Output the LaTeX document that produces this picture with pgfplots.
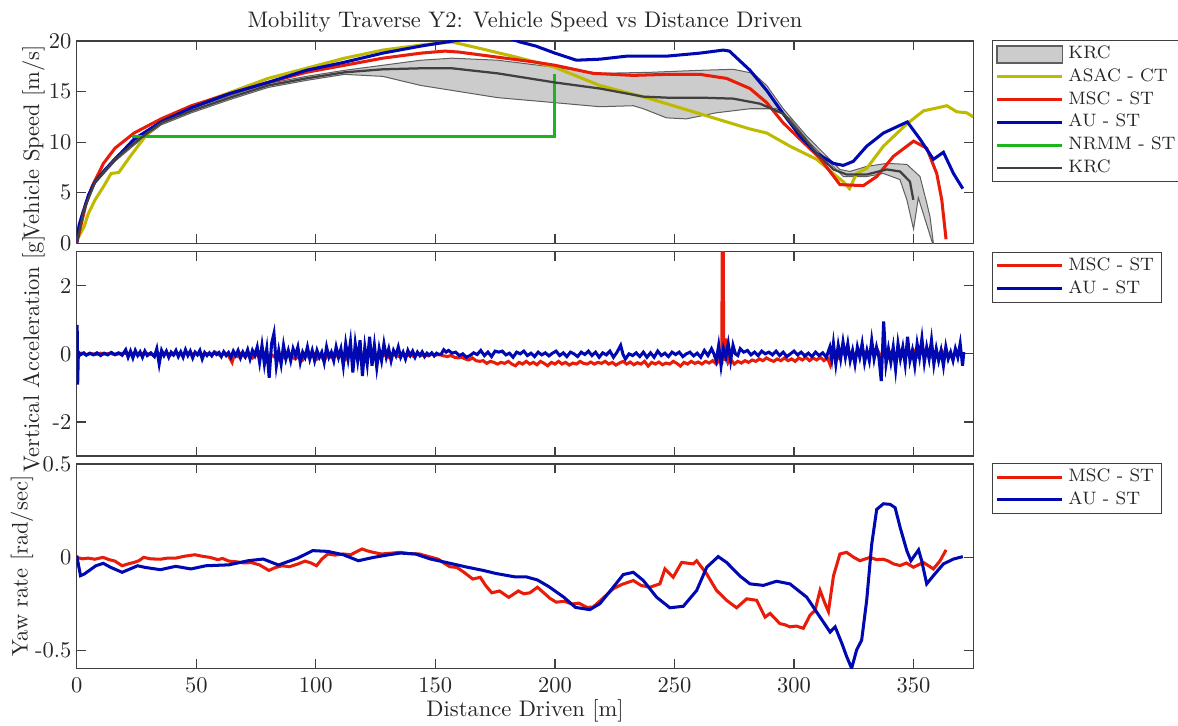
\documentclass[border=0pt]{standalone}
\usepackage{pgfplots}
\pgfplotsset{compat=1.18}
\definecolor{asac}{RGB}{190,186,0}
\definecolor{msc}{RGB}{232,28,8}
\definecolor{au}{RGB}{0,8,178}
\definecolor{nrmm}{RGB}{30,180,30}
\definecolor{krc}{RGB}{64,64,64}
\definecolor{krcfill}{RGB}{204,204,204}
\definecolor{krcedge}{RGB}{95,95,95}
\definecolor{axcol}{RGB}{64,64,64}
\definecolor{txtcol}{RGB}{38,38,38}
\begin{document}
\begin{tikzpicture}
\path[use as bounding box] (0,0) rectangle (523.56pt,-322.67pt);
\pgfplotsset{
  every axis/.append style={
    scale only axis, width=398.49pt, xmin=0, xmax=375,
    xtick={0,50,...,350},
    axis line style={axcol, line width=0.55pt},
    every tick/.style={axcol, line width=0.55pt},
    major tick length=4pt,
    tick label style={font=\fontsize{10}{12}\selectfont, text=txtcol},
    label style={font=\fontsize{10}{12}\selectfont, text=txtcol},
    yticklabel style={anchor=east, inner xsep=0pt, xshift=-2.2pt},
    legend cell align=left,
    legend image code/.code={\draw[#1] (0pt,0pt) -- (29pt,0pt);},
    legend style={draw=axcol, line width=0.55pt, fill=white, text=txtcol,
      font=\fontsize{8}{9}\selectfont,
      inner xsep=1.5pt, inner ysep=1pt, row sep=0pt,
      nodes={inner xsep=2pt, inner ysep=0.5pt, text height=6.5pt, text depth=2.6pt}},
  },
  every axis title/.style={at={(0.5,1)}, anchor=base, yshift=6.1pt,
    font=\fontsize{10}{12}\selectfont, text=txtcol},
}
% ---------------- Speed ----------------
\begin{axis}[at={(34.09pt,-18.22pt)}, anchor=north west, height=89.91pt,
  ymin=0, ymax=20, ytick={0,5,10,15,20}, yticklabels={0,5,10,15,20},
  xticklabels={},
  ylabel={Vehicle Speed [m/s]},
  ylabel style={at={([xshift=-19.2pt]axis description cs:0,0.5)}, anchor=center},
  title={Mobility Traverse Y2: Vehicle Speed vs Distance Driven},
  legend style={at={(1.0205,1.005)}, anchor=north west},
]
\addplot[fill=krcfill, draw=krcedge, line width=0.45pt,
  legend image code/.code={\draw[fill=krcfill, draw=krcedge, line width=0.8pt] (0pt,-3.8pt) rectangle (29pt,3.8pt);}]
coordinates {
(0,0.1) (3,3.5) (7.7,6.3) (16,8.5) (24,10.1) (35.3,12.1) (48,13.3) (64,14.6) (80,15.8) (96,16.5) (112,17.1) (128,17.6) (144,18.1) (157,18.3) (176,18.1) (200,17.4) (218.8,16.8) (239.7,16.9) (260.7,17.1) (274.6,17.2) (283,16.8) (288.6,15.6) (295.5,13.3) (305.3,10.6) (313.7,8.6) (319.2,7.3) (323.4,7.1) (330.4,7.6) (338.8,7.9) (347.2,7.8) (352.7,6.6) (355.5,4) (356.9,2.6) (358.3,0) (358.6,-0.5)
(352,4.5) (350,1.4) (347.2,4.3) (344.3,6.3) (337.4,6.9) (330.4,6.6) (320.6,6.6) (315.1,7.9) (306.7,9.9) (298.3,12.3) (292.7,13.3) (281.6,13.3) (267.5,12.9) (255,12.3) (246.7,12.4) (237,13.3) (232.8,13.6) (218.8,13.5) (200,13.9) (176,14.4) (160,15.0) (144,15.6) (128,16.5) (112,16.7) (96,16.1) (80,15.4) (64,14.2) (48,12.9) (35.3,11.7) (24,9.7) (16,8.1) (7.7,5.9) (3,3.2) (0,0)
} -- cycle;
\addlegendentry{KRC}
\addplot[asac, line width=1.35pt] coordinates {
(0.5,0.5) (3.2,1.7) (4.8,2.9) (7.7,4.3) (11.2,5.6) (14.4,6.9) (17.6,7) (22.4,8.6) (28.8,10.6) (35.3,12.1) (43.3,13.1) (64,14.9) (80,16.3) (96,17.3) (112,18.3) (128,19.1) (144,19.6) (157,19.9) (168,19.3) (184,18.4) (200,17.4) (218.8,15.6) (239.7,14.3) (260.7,12.8) (281.6,11.3) (288.6,10.9) (298.3,9.6) (309.5,8.3) (317.9,6.6) (320.6,6.1) (323.2,5.4) (326.2,6.9) (330.4,7.4) (337.4,9.6) (347.2,11.8) (354.2,13.1) (358.3,13.3) (363.9,13.6) (368.1,13.0) (372.2,12.9) (375,12.5)
};
\addlegendentry{ASAC - CT}
\addplot[msc, line width=1.35pt] coordinates {
(0,0) (1.6,1.6) (4,4) (6.4,5.6) (11.2,7.9) (16,9.4) (24,10.9) (35.3,12.3) (48,13.6) (64,14.8) (80,15.9) (96,16.9) (112,17.6) (128,18.3) (144,18.8) (154,19.0) (160,18.9) (176,18.4) (192,17.9) (200,17.6) (216,16.8) (232.8,16.6) (246.7,16.7) (260.7,16.7) (271.8,16.3) (281.6,15.3) (288.6,13.9) (295.5,11.9) (302.5,10.3) (310.9,8.4) (319.2,5.8) (329,5.7) (334.6,6.6) (341.6,8.6) (350,10.1) (355.5,9.4) (359.7,6.9) (361.8,4.3) (363.6,0.4)
};
\addlegendentry{MSC - ST}
\addplot[au, line width=1.35pt] coordinates {
(0,0) (1,1.8) (2.4,2.9) (5,4.8) (7.7,6.1) (12,7.3) (16,8.3) (24,10.3) (35.3,12) (48,13.4) (64,14.8) (80,15.9) (96,17.1) (112,17.9) (128,18.8) (144,19.5) (160,20.1) (172,20.4) (180,20.35) (185.4,19.9) (192,19.5) (200,18.8) (209,18.1) (218.8,18.2) (230,18.5) (246.7,18.5) (260.7,18.8) (270.4,19.1) (273,19.0) (281.6,17.1) (288.6,15.1) (295.5,12.8) (302.5,10.6) (309.5,8.9) (316.5,7.9) (320.6,7.7) (324.8,8.1) (330.4,9.6) (337.4,10.9) (347.4,12.0) (352.7,10.3) (358.3,8.3) (362.5,9.0) (366.7,6.9) (370.6,5.4)
};
\addlegendentry{AU - ST}
\addplot[nrmm, line width=1.35pt] coordinates {(23.2,10.6) (200,10.6) (200,16.7)};
\addlegendentry{NRMM - ST}
\addplot[krc, line width=1pt] coordinates {
(0,0) (3,3.3) (7.7,6.1) (16,8.3) (24,9.9) (35.3,11.9) (48,13.1) (64,14.4) (80,15.6) (96,16.3) (112,16.9) (128,17.2) (144,17.3) (157,17.3) (176,16.8) (200,15.9) (218.8,15.3) (237,14.5) (246.7,14.4) (260.7,14.4) (274.6,14.3) (285.8,13.8) (295.5,12.8) (302.5,10.9) (309.5,8.9) (316.5,7.3) (322,6.8) (330.4,6.8) (338.8,7.3) (344.3,7.1) (348.5,6.1) (349.9,4.3)
};
\addlegendentry{KRC}
\end{axis}
% ---------------- Vertical acceleration ----------------
\begin{axis}[at={(34.09pt,-111.87pt)}, anchor=north west, height=90.8pt,
  ymin=-3, ymax=3, ytick={-2,0,2}, yticklabels={-2,0,2},
  xticklabels={},
  ylabel={Vertical Acceleration [g]},
  ylabel style={at={([xshift=-19.2pt]axis description cs:0,0.5)}, anchor=center},
  legend style={at={(1.0205,1)}, anchor=north west},
]
\addplot[msc, line width=1.35pt] coordinates {
(0,0) (2,0.02) (4,-0.02) (6,0.01) (8,-0.02) (10,0.02) (12,-0.01) (14,0.02) (16,-0.03) (18,0.01) (20,0.02) (22,-0.02) (24,0.03) (26,-0.03) (28,0.02) (30,0.0) (32,-0.03) (34,0.02) (36,-0.02) (38,0.01) (40,-0.03) (42,0.02) (44,-0.02) (46,0.03) (48,-0.01) (50,0.02) (52,-0.03) (54,0.01) (56,-0.02) (58,0.05) (60,-0.05) (62,0.02) (63.5,-0.05) (65,-0.25) (66,0.0) (67.5,-0.08) (69,0.03) (70.5,-0.1) (72,0.0) (73.5,-0.12) (75,-0.02) (76.5,-0.1) (78,0.05) (79.5,-0.12) (81,0.0) (82.5,-0.08) (84,-0.15) (85.5,-0.02) (87,-0.12) (88.5,0.02) (90,-0.1) (91.5,-0.15) (93,-0.05) (94.5,-0.18) (96,-0.05) (97.5,-0.12) (99,0.02) (100.5,-0.15) (102,-0.05) (103.5,-0.2) (105,-0.02) (106.5,-0.1) (108,0.05) (109.5,-0.12) (111,0.0) (112.5,-0.15) (114,0.05) (115.5,-0.1) (117,-0.05) (118.5,-0.15) (120,0.0) (121.5,-0.1) (123,-0.02) (124.5,-0.12) (126,0.0) (127.5,-0.08) (129,-0.03) (130.5,-0.1) (132,0.0) (133.5,-0.05) (135,-0.08) (136.5,0.0) (138,-0.06) (139.5,-0.02) (141,-0.08) (142.5,0.0) (144,-0.05) (145.5,-0.02) (147,-0.06) (148.5,0.0) (150,-0.04) (151.5,-0.02) (153,-0.05) (155,-0.08) (156.5,-0.05) (158,-0.1) (159.5,-0.12) (161,-0.1) (162.5,-0.15) (164,-0.18) (165.5,-0.12) (167,-0.2) (168.5,-0.22) (170,-0.2) (171.5,-0.28) (173,-0.22) (174.5,-0.25) (176,-0.3) (177.5,-0.25) (179,-0.28) (180.5,-0.22) (182,-0.3) (183.5,-0.35) (185,-0.25) (186.5,-0.3) (188,-0.22) (189.5,-0.3) (191,-0.25) (192.5,-0.32) (194,-0.22) (195.5,-0.28) (197,-0.35) (198.5,-0.25) (200,-0.3) (201.5,-0.22) (203,-0.3) (204.5,-0.25) (206,-0.33) (207.5,-0.27) (209,-0.3) (210.5,-0.22) (212,-0.28) (213.5,-0.3) (215,-0.24) (216.5,-0.3) (218,-0.25) (219.5,-0.28) (221,-0.22) (222.5,-0.3) (224,-0.25) (225.5,-0.33) (227,-0.27) (228.5,-0.22) (230,-0.3) (231.5,-0.24) (233,-0.32) (234.5,-0.26) (236,-0.3) (237.5,-0.22) (239,-0.36) (240.5,-0.25) (242,-0.3) (243.5,-0.24) (245,-0.32) (246.5,-0.27) (248,-0.3) (249.5,-0.22) (251,-0.28) (252.5,-0.36) (254,-0.25) (255.5,-0.3) (257,-0.22) (258.5,-0.28) (260,-0.24) (261.5,-0.3) (263,-0.22) (264.5,-0.27) (266,-0.2) (267.5,-0.3) (269,-0.15) (269.8,-0.2) (270,3.5) (270.4,3.5) (270.6,-0.2) (271.5,0.45) (272.5,-0.25) (273.5,-0.15) (275,-0.3) (276.5,-0.22) (278,-0.27) (279.5,-0.2) (281,-0.25) (282.5,-0.18) (284,-0.22) (285.5,-0.15) (287,-0.2) (288.5,-0.12) (290,-0.18) (291.5,-0.22) (293,-0.15) (294.5,-0.2) (296,-0.12) (297.5,-0.2) (299,-0.15) (300.5,-0.22) (302,-0.12) (303.5,-0.18) (305,-0.1) (306.5,-0.2) (308,-0.12) (309.5,-0.18) (311,-0.1) (312.5,-0.2) (314,-0.12) (315,-0.3) (315.5,-0.05) (317,0.05) (318.5,-0.1) (320,0.08) (321.5,-0.05) (323,0.05) (324.5,-0.1) (326,0.03) (327.5,-0.05) (329,0.08) (330.5,-0.08) (332,0.05) (333.5,-0.05) (335,0.1) (336.5,-0.1) (338,0.05) (339.5,-0.08) (341,0.08) (342.5,-0.05) (344,0.1) (345.5,-0.05) (347,0.05) (348.5,-0.1) (350,0.1) (351.5,-0.08) (353,0.05) (354.5,-0.05) (356,0.1) (357.5,-0.08) (359,0.05) (360.5,-0.05) (362,0.08) (363,-0.05)
};
\addlegendentry{MSC - ST}
\addplot[au, line width=1.35pt] coordinates {
(0,0) (0.2,0.85) (0.4,-0.9) (0.7,0.05) (1.5,-0.03) (3,0.03) (4,-0.04) (5.5,0.02) (7,-0.03) (8.5,0.03) (10,-0.05) (11.5,0.02) (13,-0.03) (14.5,0.04) (16,-0.02) (17.5,0.03) (19,-0.04) (20.5,0.12) (21.5,-0.1) (22.5,0.08) (23.5,-0.12) (24.5,0.1) (25.5,-0.05) (26.5,0.06) (27.5,-0.1) (28.5,0.08) (29.5,-0.05) (31,0.03) (32.5,-0.08) (33.5,0.15) (34.5,-0.3) (35.5,0.1) (36.5,-0.05) (37.5,0.08) (38.5,-0.1) (39.5,0.05) (40.5,-0.03) (41.5,0.1) (42.5,-0.08) (43.5,0.06) (44.5,-0.1) (45.5,0.12) (46.5,-0.05) (47.5,0.08) (48.5,-0.12) (49.5,0.05) (50.5,-0.03) (51.5,0.1) (52.5,-0.15) (53.5,0.04) (54.5,-0.05) (55.5,0.03) (56.5,-0.06) (57.5,0.05) (58.5,-0.02) (59.5,0.04) (60.5,-0.08) (61.5,0.06) (62.5,-0.05) (63.5,0.04) (64.5,-0.1) (65.5,0.08) (66.5,-0.05) (67.5,0.1) (68.5,-0.12) (69.5,0.05) (70.5,-0.08) (71.5,0.12) (72.5,-0.15) (73.5,0.1) (74.5,-0.05) (75.5,0.2) (76.5,-0.25) (77.5,0.25) (78.5,-0.3) (79.5,0.15) (80.5,-0.7) (81.5,0.3) (82.5,0.6) (83.5,-0.35) (84.5,0.1) (85.5,-0.3) (86.5,0.25) (87.5,-0.15) (88.5,0.1) (89.5,-0.2) (90.5,0.15) (91.5,-0.05) (92.5,0.2) (93.5,-0.25) (94.5,0.05) (95.5,-0.1) (96.5,0.2) (97.5,-0.15) (98.5,0.1) (99.5,-0.2) (100.5,0.1) (101.5,-0.1) (102.5,0.05) (103.5,-0.25) (104.5,0.2) (105.5,-0.1) (106.5,0.05) (107.5,-0.2) (108.5,0.2) (109.5,-0.1) (110.5,0.15) (111.5,-0.35) (112.5,0.3) (113.5,-0.15) (114.5,0.35) (115.5,-0.55) (116.5,0.3) (117.5,-0.2) (118.5,0.4) (119.5,-0.65) (120.5,0.2) (121.5,-0.3) (122.5,0.5) (123.5,-0.35) (124.5,0.25) (125.5,-0.4) (126.5,0.15) (127.5,-0.2) (128.5,0.3) (129.5,-0.1) (130.5,0.15) (131.5,-0.2) (132.5,0.1) (133.5,-0.05) (134.5,0.2) (135.5,-0.1) (136.5,0.05) (137.5,-0.15) (138.5,0.1) (139.5,-0.05) (140.5,0.08) (141.5,-0.1) (142.5,0.05) (143.5,-0.05) (144.5,0.06) (145.5,-0.08) (146.5,0.02) (147.5,-0.04) (148.5,0.03) (149.5,-0.06) (150.5,0.02) (151.5,-0.02) (152.5,0.0) (153.5,0.12) (154.5,0.05) (155.5,0.1) (157,0.02) (158.5,0.05) (160,-0.05) (161.5,0.0) (163,-0.1) (164.5,-0.05) (166,0.03) (167.5,-0.02) (169,0.1) (170.5,-0.05) (172,0.05) (173.5,-0.08) (175,0.08) (176.5,0.05) (178,0.08) (179.5,-0.03) (181,0.02) (182.5,-0.1) (184,0.05) (185.5,0.0) (187,0.08) (188.5,-0.05) (190,0.02) (191.5,-0.08) (193,0.05) (194.5,-0.03) (196,0.03) (197.5,-0.06) (199,0.02) (200.5,0.08) (202,-0.05) (203.5,0.03) (205,-0.08) (206.5,0.05) (208,0.0) (209.5,-0.08) (211,0.05) (212.5,-0.02) (214,0.08) (215.5,-0.05) (217,0.05) (218.5,-0.1) (220,0.03) (221.5,-0.03) (223,0.08) (224.5,-0.1) (226,0.05) (227.5,0.25) (228.5,-0.02) (229.5,-0.15) (231,0.0) (232.5,-0.05) (234,0.03) (235.5,-0.08) (237,0.05) (238.5,-0.1) (240,0.03) (241.5,-0.1) (243,0.08) (244.5,-0.05) (246,0.02) (247.5,-0.08) (249,0.05) (250.5,-0.02) (252,0.05) (253.5,-0.08) (255,0.0) (256.5,0.05) (258,-0.06) (259.5,0.02) (261,-0.1) (262.5,0.1) (264,-0.05) (265.5,0.15) (266.5,0.0) (267.5,-0.2) (268.5,0.25) (269.5,-0.35) (270.5,0.15) (271.5,-0.1) (272.5,0.3) (273.5,-0.2) (274.5,0.25) (275.5,0.0) (276.5,-0.05) (277.5,0.15) (279,0.05) (280.5,0.1) (282,-0.03) (283.5,0.05) (285,-0.05) (286.5,0.08) (288,0.0) (289.5,0.05) (291,-0.03) (292.5,0.08) (294,-0.05) (295.5,0.05) (297,-0.08) (298.5,0.0) (300,0.08) (301.5,-0.03) (303,0.05) (304.5,-0.06) (306,0.02) (307.5,-0.08) (309,0.05) (310.5,-0.05) (312,0.03) (313.5,-0.1) (315,0.2) (315.8,-0.15) (316.5,0.3) (317.5,-0.3) (318.5,0.25) (319.5,-0.15) (320.5,0.35) (321.5,-0.1) (322.5,0.3) (323.5,-0.2) (324.5,0.1) (325.5,-0.3) (326.5,0.2) (327.5,-0.1) (328.5,0.3) (329.5,-0.25) (330.5,0.1) (331.5,-0.2) (332.5,0.4) (333.5,-0.15) (334.5,0.2) (335.5,-0.1) (336.5,-0.8) (337.5,0.95) (338.5,-0.3) (339.5,0.15) (340.5,-0.25) (341.5,0.2) (342.5,-0.45) (343.5,0.3) (344.5,-0.15) (345.5,0.2) (346.5,-0.3) (347.5,0.5) (348.5,-0.2) (349.5,0.1) (350.5,-0.35) (351.5,0.3) (352.5,-0.1) (353.5,0.45) (354.5,-0.25) (355.5,0.2) (356.5,-0.15) (357.5,0.4) (358.5,-0.3) (359.5,0.15) (360.5,-0.2) (361.5,0.1) (362.5,-0.35) (363.5,0.2) (364.5,-0.15) (365.5,0.05) (366.5,-0.2) (367.5,0.15) (368.5,-0.1) (369.5,0.3) (370.5,-0.35) (371,0.05)
};
\addlegendentry{AU - ST}
\end{axis}
% ---------------- Yaw rate ----------------
\begin{axis}[at={(34.09pt,-206.22pt)}, anchor=north west, height=90.8pt,
  ymin=-0.594, ymax=0.5, ytick={-0.5,0,0.5}, yticklabels={-0.5,0,0.5},
  xticklabels={0,50,100,150,200,250,300,350},
  xticklabel style={anchor=base, yshift=-10.8pt},
  xlabel={Distance Driven [m]},
  xlabel style={at={([yshift=-21.6pt]axis description cs:0.5,0)}, anchor=base},
  ylabel={Yaw rate [rad/sec]},
  ylabel style={at={([xshift=-24.3pt]axis description cs:0,0.5)}, anchor=center},
  legend style={at={(1.0205,1.005)}, anchor=north west},
]
\addplot[msc, line width=1.35pt] coordinates {
(0,0) (2.4,-0.008) (4.8,-0.004) (7.5,-0.01) (11,0) (13.5,-0.012) (16,-0.02) (19,-0.045) (21.5,-0.035) (24,-0.027) (26,-0.018) (28,0) (31,-0.008) (35,-0.01) (38,-0.004) (41.4,-0.004) (45,0.006) (49.4,0.014) (52.5,0.006) (55.7,0) (59,-0.012) (61,-0.006) (63.7,-0.02) (67,-0.024) (70,-0.03) (73,-0.028) (76.4,-0.04) (80.4,-0.07) (83,-0.055) (86,-0.045) (89,-0.05) (92.4,-0.036) (95.5,-0.02) (98,-0.03) (100.3,-0.045) (102.5,-0.01) (105,0.018) (108,0.012) (111.5,0.018) (114.6,0.014) (117,0.03) (119.4,0.045) (121.5,0.035) (124,0.027) (127.4,0.018) (131,0.022) (135.4,0.027) (139,0.02) (143.3,0.018) (147,0.005) (151.3,-0.01) (153.5,-0.03) (156,-0.05) (159,-0.054) (162,-0.08) (165.6,-0.116) (168.8,-0.107) (171,-0.15) (173.6,-0.19) (176.8,-0.18) (180.7,-0.214) (184.7,-0.18) (187,-0.195) (189.5,-0.19) (192.7,-0.16) (195.9,-0.196) (198,-0.22) (200.6,-0.24) (204,-0.235) (207,-0.25) (210,-0.245) (213.4,-0.268) (216,-0.266) (220,-0.22) (224.4,-0.168) (228,-0.145) (232.8,-0.124) (236,-0.15) (239.7,-0.16) (243.9,-0.142) (246,-0.062) (249.5,-0.106) (253,-0.027) (257.9,-0.035) (259.3,-0.018) (263.5,-0.089) (267.6,-0.177) (271.8,-0.23) (276,-0.27) (280.2,-0.222) (284.4,-0.23) (287.9,-0.32) (290,-0.30) (294.1,-0.355) (296,-0.36) (298.3,-0.372) (301,-0.368) (303.9,-0.38) (306.7,-0.31) (308.8,-0.284) (310.9,-0.177) (313,-0.248) (314.4,-0.29) (316.5,-0.1) (319.2,0.018) (322,0.027) (325,0.0) (327.6,-0.018) (331.8,0) (334.5,-0.012) (337.4,-0.01) (339.5,-0.02) (341.6,-0.035) (344.4,-0.044) (347,-0.03) (350,-0.053) (354.1,-0.027) (358.3,-0.062) (361.1,-0.018) (363.6,0.04)
};
\addlegendentry{MSC - ST}
\addplot[au, line width=1.35pt] coordinates {
(0,0.01) (1.6,-0.098) (3.2,-0.089) (8,-0.045) (11.1,-0.032) (14.3,-0.054) (19,-0.08) (25.5,-0.045) (28.7,-0.054) (35,-0.066) (41.4,-0.048) (47.8,-0.062) (54,-0.045) (63.7,-0.04) (71.7,-0.018) (78,-0.009) (84.4,-0.041) (92.4,-0.004) (98.7,0.036) (105,0.032) (111.5,0.014) (117.8,-0.018) (124.2,0) (130.6,0.014) (135.4,0.023) (141.7,0.018) (148,-0.009) (154.5,-0.027) (162.4,-0.05) (170.4,-0.071) (175.2,-0.086) (183.1,-0.104) (187.9,-0.104) (192.7,-0.121) (197.5,-0.157) (203.8,-0.214) (208.6,-0.268) (214.6,-0.28) (218.8,-0.248) (224.4,-0.16) (228.6,-0.092) (232.8,-0.08) (237,-0.124) (242.5,-0.213) (248.1,-0.27) (253.7,-0.262) (259.3,-0.177) (263.5,-0.053) (268.3,0.004) (271.8,-0.027) (277.4,-0.1) (281.6,-0.142) (287.2,-0.15) (292.7,-0.128) (298.3,-0.142) (305.3,-0.213) (310.9,-0.32) (315.1,-0.4) (317.2,-0.372) (320,-0.46) (322,-0.53) (324.1,-0.594) (326.2,-0.496) (328.3,-0.443) (330.4,-0.23) (332.5,0.07) (334.6,0.257) (337.4,0.287) (340.2,0.284) (342.3,0.266) (344.4,0.16) (347.2,0.035) (348.9,-0.018) (352.1,0.04) (353.4,-0.018) (355.5,-0.142) (358.3,-0.098) (362.5,-0.035) (366.7,-0.009) (370.6,0.004)
};
\addlegendentry{AU - ST}
\end{axis}
\end{tikzpicture}
\end{document}
